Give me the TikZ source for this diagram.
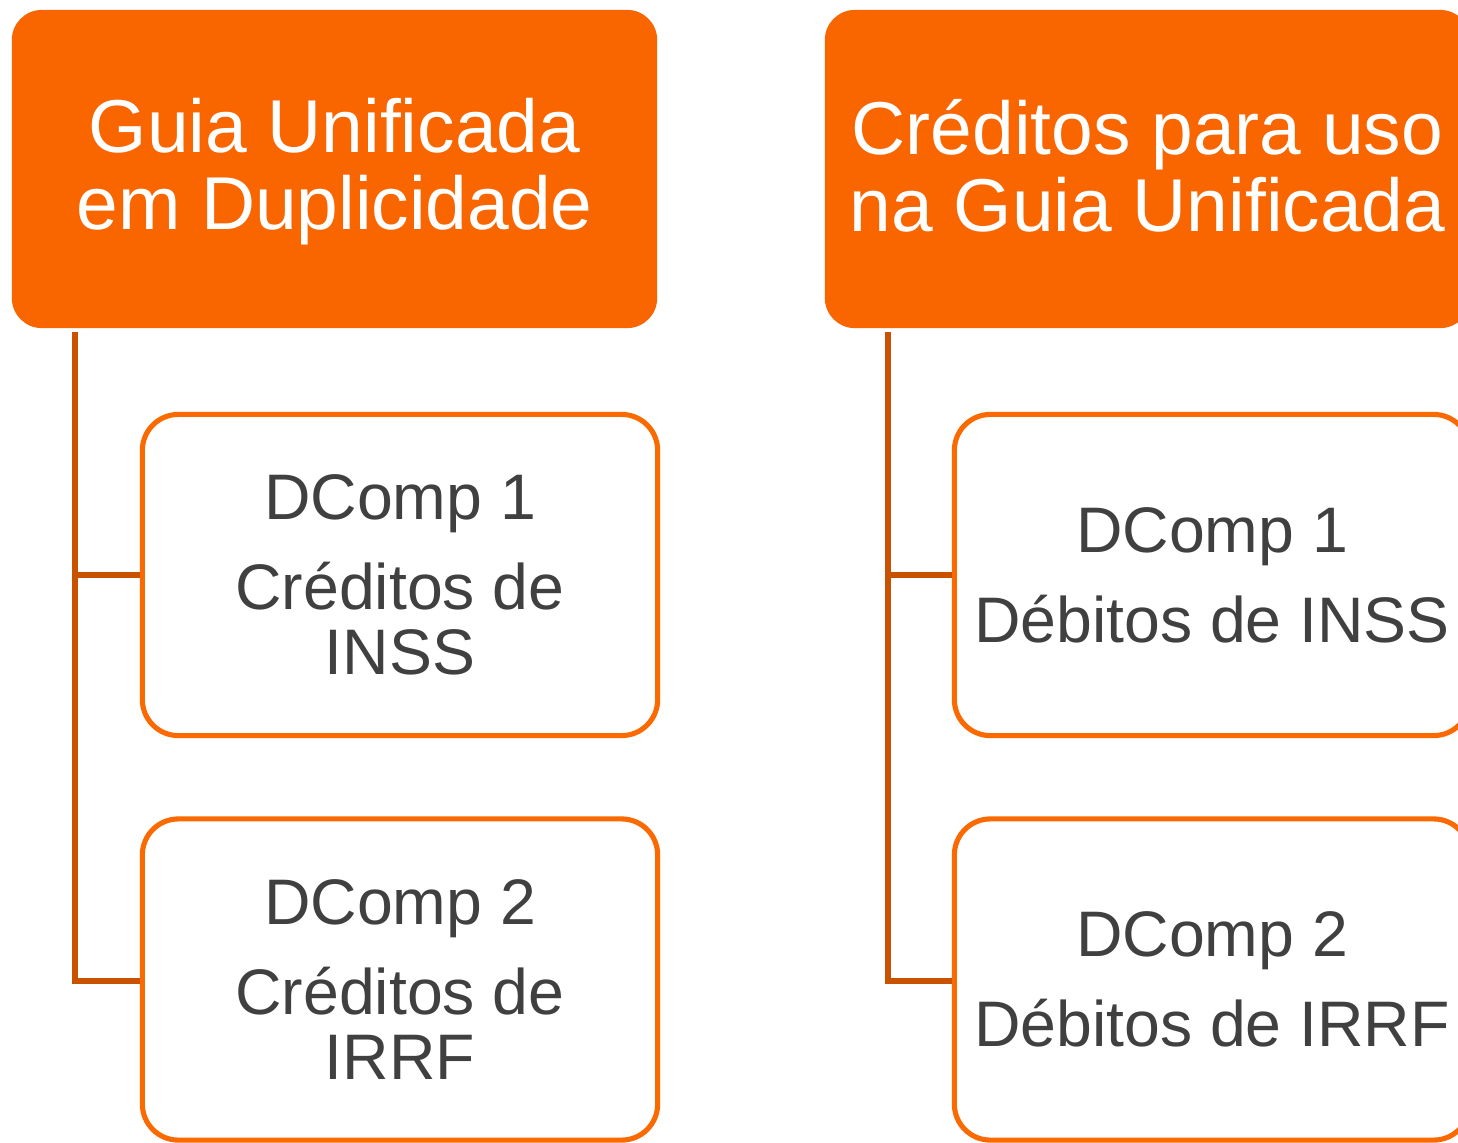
\documentclass[tikz,border=0pt]{standalone}
\usepackage{fontspec}
\setmainfont{Liberation Sans}
\definecolor{titleorange}{HTML}{F96600}
\definecolor{boxorange}{HTML}{FA6A00}
\definecolor{linkorange}{HTML}{C85200}
\definecolor{textgray}{HTML}{404040}
\begin{document}
\begin{tikzpicture}[x=0.01cm,y=-0.01cm,
  titlebox/.style={draw=none, fill=titleorange, rounded corners=0.3cm,
    minimum width=6.45cm, minimum height=3.18cm, inner sep=0pt},
  titletext/.style={text=white, align=center,
    font=\fontsize{21.3}{21.9}\selectfont, inner sep=0pt},
  childbox/.style={draw=boxorange, line width=1.45pt, fill=white, rounded corners=0.36cm,
    minimum width=5.15cm, minimum height=3.21cm, text=textgray, align=center,
    font=\fontsize{18.3}{18.5}\selectfont, inner sep=0pt},
  link/.style={draw=linkorange, line width=1.45pt}]
\useasboundingbox (0,0) rectangle (1458,1142);
\clip (0,0) rectangle (1458,1142);
\fill[white] (0,0) rectangle (1458,1142);

\node[titlebox] (t1) at (334.5,169) {};
\node[titlebox] (t2) at (1147.5,169) {};
\node[titletext] (t1text) at (334.5,172) {Guia Unificada\\em Duplicidade};
\node[titletext] (t2text) at (1147.5,166) {Créditos para uso\\na Guia Unificada};

\node[childbox] (a1) at (400,575) {DComp 1\\[7pt]Créditos de\\INSS};
\node[childbox] (a2) at (400,979.5) {DComp 2\\[7pt]Créditos de\\IRRF};
\node[childbox] (b1) at (1212,575) {DComp 1\\[7pt]Débitos de INSS};
\node[childbox] (b2) at (1212,979.5) {DComp 2\\[7pt]Débitos de IRRF};

\coordinate (l0) at (75,332);
\coordinate (l1) at (75,575);
\coordinate (l2) at (75,981);
\coordinate (r0) at (888,332);
\coordinate (r1) at (888,575);
\coordinate (r2) at (888,981);

\draw[link] (l0) -- (l2) -- (a2.west |- l2);
\draw[link] (l1) -- (a1.west |- l1);
\draw[link] (r0) -- (r2) -- (b2.west |- r2);
\draw[link] (r1) -- (b1.west |- r1);
\end{tikzpicture}
\end{document}
